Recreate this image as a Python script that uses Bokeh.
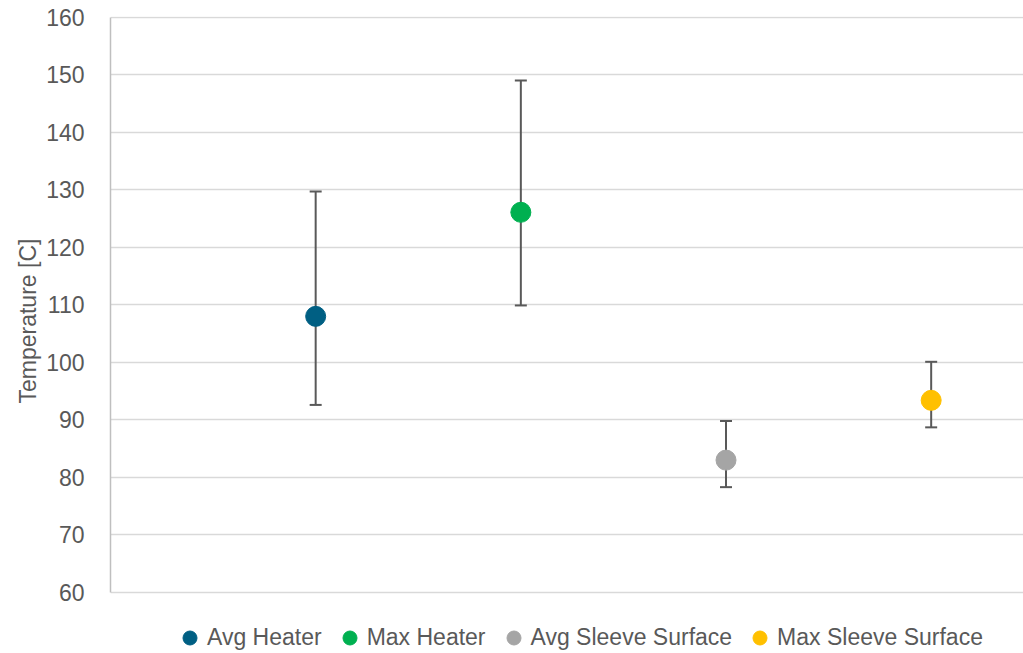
from bokeh.plotting import figure
from bokeh.models import ColumnDataSource, Whisker, TeeHead, Legend, LegendItem, Range1d, FixedTicker, Title
from bokeh.embed import file_html
from bokeh.resources import INLINE

categories = ["Avg Heater", "Max Heater", "Avg Sleeve Surface", "Max Sleeve Surface"]
x_pos = [1, 2, 3, 4]
means = [108.0, 126.1, 83.0, 93.4]
upper = [129.7, 149.0, 89.8, 100.1]
lower = [92.6, 109.9, 78.3, 88.7]
colors = ["#005F83", "#00B050", "#A5A5A5", "#FFC000"]
y_ticks = [60, 70, 80, 90, 100, 110, 120, 130, 140, 150, 160]

FONT = "Liberation Sans"
TXT = "#595959"

p = figure(width=1023, height=653, output_backend="svg", toolbar_location=None,
           x_range=Range1d(0, 4.45), y_range=Range1d(49.37, 160.15),
           min_border_left=110, min_border_right=0, min_border_top=16, min_border_bottom=0)
p.outline_line_color = None
p.background_fill_color = "white"
p.border_fill_color = "white"

p.xaxis.visible = False
p.xgrid.visible = False
p.ygrid.grid_line_color = "#D9D9D9"
p.ygrid.grid_line_width = 1.5
p.ygrid.bounds = (60, 160)
p.yaxis.bounds = (60, 160)
p.yaxis.ticker = FixedTicker(ticks=y_ticks)
p.yaxis.axis_line_color = "#BFBFBF"
p.yaxis.axis_line_width = 1.5
p.yaxis.major_tick_line_color = None
p.yaxis.minor_tick_line_color = None
p.yaxis.major_label_text_font = FONT
p.yaxis.major_label_text_font_size = "23px"
p.yaxis.major_label_text_color = TXT
p.yaxis.major_label_standoff = 20

ylabel = Title(text="Temperature [C]", align="left", offset=250,
               text_font=FONT, text_font_size="23px", text_font_style="normal",
               text_color=TXT, standoff=6)
p.add_layout(ylabel, "left")

src = ColumnDataSource(dict(x=x_pos, y=means, up=upper, lo=lower, c=colors, name=categories))
wh = Whisker(source=src, base="x", upper="up", lower="lo", dimension="height",
             line_color="#595959", line_width=2,
             upper_head=TeeHead(size=12, line_color="#595959", line_width=2),
             lower_head=TeeHead(size=12, line_color="#595959", line_width=2))
p.add_layout(wh)

items = []
for i, name in enumerate(categories):
    s = ColumnDataSource(dict(x=[x_pos[i]], y=[means[i]]))
    r = p.scatter("x", "y", source=s, size=20, fill_color=colors[i], line_color=colors[i])
    items.append(LegendItem(label=name, renderers=[r]))

legend = Legend(items=items, orientation="horizontal", location=(62, -2),
                label_text_font=FONT, label_text_font_size="23px", label_text_color=TXT,
                glyph_width=35, glyph_height=35, label_standoff=-7, spacing=10,
                border_line_color=None, background_fill_alpha=0, padding=0, margin=0)
p.add_layout(legend, "center")

open("out.html", "w").write(file_html(p, INLINE))
